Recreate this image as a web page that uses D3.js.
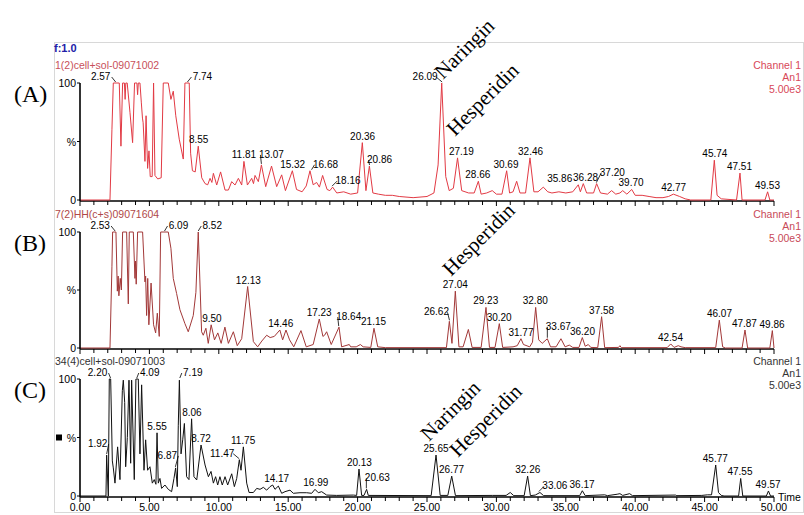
<!DOCTYPE html>
<html><head><meta charset="utf-8">
<script src="https://cdn.jsdelivr.net/npm/d3@7"></script>
<style>body{margin:0;background:#fff}svg{display:block}</style>
</head><body><svg id="c" width="804" height="515"></svg>
<script>
// ---- data (retention time in min, relative intensity %) ----
const xTicks = [0,5,10,15,20,25,30,35,40,45,50];
const yTickLabels = ["0","%","100"];
const panelNames = ["(A)","(B)","(C)"];
const sampleNames = ["1(2)cell+sol-09071002","7(2)HH(c+s)09071604","34(4)cell+sol-09071003"];
const channelText = ["Channel 1","An1","5.00e3"];

const traceA = [[0,0],[2.16,0],[2.3,60],[2.4,100],[2.83,100],[2.95,46],[3.07,100],[3.2,100],[3.25,86],[3.3,100],[3.4,100],[3.6,75],[3.79,49],[3.93,100],[4.1,100],[4.15,90],[4.2,100],[4.32,100],[4.42,83],[4.5,70],[4.55,66],[4.68,33],[4.76,72],[4.87,27],[4.97,42],[5.06,20],[5.2,20],[5.3,100],[5.4,21],[5.6,18],[5.85,19],[6.0,100],[6.36,100],[6.55,86],[6.72,93],[6.9,72],[7.15,52],[7.44,35],[7.56,100],[7.87,100],[7.97,40],[8.1,25],[8.3,24],[8.52,46],[8.77,19],[9.01,14],[9.2,13],[9.37,18.5],[9.5,15],[9.61,22.8],[9.85,12.8],[10.13,24],[10.45,8.5],[10.69,8.5],[10.93,15.7],[11.17,12.8],[11.41,18.5],[11.65,12.8],[11.81,33],[12.06,12.8],[12.37,18.5],[12.5,14],[12.61,21],[12.85,15.7],[13.07,30],[13.38,11.4],[13.8,29],[14.17,11.4],[14.53,21.5],[14.8,8],[15.3,25],[15.6,9],[16.0,7],[16.3,12],[16.57,25],[16.8,13],[17.05,15],[17.25,11],[17.48,21],[17.8,9],[18.0,8],[18.2,11],[18.5,6],[19.0,7],[19.5,5],[20.0,6],[20.34,49],[20.6,8],[20.85,29],[21.1,6],[21.5,5],[22,4],[22.5,4],[23,3],[24,2],[25,3],[25.5,6],[25.8,30],[26.06,100],[26.35,20],[26.6,8],[26.9,10],[27.2,36],[27.5,8],[28,6],[28.4,6],[28.7,16],[28.9,5],[29.3,6],[29.7,8],[30.0,5],[30.4,5],[30.74,25],[30.95,6],[31.2,7],[31.46,16],[31.7,6],[32.1,6],[32.42,36],[32.7,7],[33.0,7],[33.38,11],[33.7,7],[34.0,6],[34.5,7],[35,6],[35.5,7],[35.9,13],[36.05,7],[36.26,14],[36.5,6],[37.0,6],[37.22,14],[37.5,6],[38,5],[38.3,8],[38.6,5],[38.9,6],[39.1,8],[39.4,5],[39.75,9],[40.0,4],[40.5,4],[41,3],[41.5,2],[42,2],[42.4,3],[42.75,5],[43.2,3],[43.6,1],[44,0],[45.45,0],[45.7,34],[45.9,4],[46.2,1],[47.3,0],[47.55,23],[47.7,0],[49.35,0],[49.54,7],[49.7,0],[50,0]];

const traceB = [[0,0],[2.16,0],[2.3,70],[2.35,100],[2.59,100],[2.69,49],[2.75,62],[2.8,45],[2.9,60],[2.98,50],[3.07,100],[3.36,100],[3.48,38],[3.55,100],[3.84,100],[3.96,60],[4.0,75],[4.05,55],[4.15,100],[4.51,100],[4.68,57],[4.73,62],[4.8,28],[4.88,60],[4.96,20],[5.12,56],[5.3,20],[5.45,13],[5.57,30],[5.71,10],[5.81,100],[6.36,100],[6.55,86],[6.72,60],[6.96,47],[7.2,33],[7.56,21],[7.8,14],[8.16,28],[8.35,48],[8.52,100],[8.76,14],[8.88,11],[9.07,17],[9.24,4],[9.45,20],[9.69,7],[9.93,13],[10.17,4],[10.44,18],[10.69,4],[11.05,14],[11.33,2],[11.65,8],[12.08,53],[12.49,5.5],[12.8,1],[13.1,6],[13.45,11],[13.7,9],[14.0,10],[14.4,15.5],[14.6,7],[14.84,15.5],[15.1,7],[15.4,1],[15.92,15],[16.3,1],[16.8,3],[17.24,25],[17.5,10],[17.62,11],[17.77,14],[18.1,3],[18.66,18],[18.85,1],[19.4,3],[19.5,1],[19.9,1],[20.2,3],[20.4,1],[20.95,0.5],[21.18,17],[21.45,1],[22,0.3],[26.4,0.3],[26.61,23],[26.8,4],[27.04,49],[27.3,1],[27.6,1],[27.98,16],[28.25,0.5],[28.9,0.5],[29.25,35],[29.5,0.5],[29.9,0.5],[30.21,21],[30.45,0.5],[31.2,1],[31.5,2],[31.77,8],[31.95,3],[32.4,1],[32.6,5],[32.83,35],[33.05,7],[33.3,4],[33.67,8],[33.9,1],[34.3,1],[34.65,8],[34.95,1],[35.25,2.5],[35.5,0.5],[35.95,0.5],[36.19,9],[36.4,1.5],[36.62,3],[36.8,0.5],[37.3,0.3],[37.58,27],[37.8,0.3],[38.8,0.5],[38.9,2],[39.0,0.3],[42.3,0.3],[42.56,3.5],[42.8,0.5],[43.1,2],[43.3,1],[43.6,0.3],[45.8,0.3],[46.06,24],[46.3,1],[46.5,0],[47.7,0],[47.91,15.5],[48.1,0],[49.7,0],[49.88,15],[50,0]];

const traceC = [[0,0],[1.87,0],[1.92,35],[2.04,0],[2.11,100],[2.21,100],[2.33,30],[2.4,24],[2.52,11],[2.71,42],[2.88,14],[3.05,90],[3.12,99],[3.22,80],[3.29,25],[3.41,50],[3.53,99],[3.65,28],[3.72,99],[3.91,14],[4.03,100],[4.2,100],[4.32,36],[4.44,95],[4.61,22],[4.73,48],[4.87,22],[5.04,25],[5.21,11],[5.35,14],[5.47,10],[5.55,54],[5.64,11],[5.76,15],[5.88,6.5],[6.12,9.4],[6.36,5.7],[6.6,3.7],[6.77,15],[6.89,24],[7.01,8],[7.08,60],[7.16,99],[7.28,36],[7.4,48],[7.52,62],[7.68,16.5],[7.85,14],[8.04,66],[8.21,16.5],[8.41,13.7],[8.72,43.6],[9.01,26.5],[9.25,16.5],[9.44,21],[9.61,11],[9.77,16.5],[9.92,9.4],[10.08,16.5],[10.25,9.4],[10.45,16.5],[10.64,9.4],[10.93,19],[11.12,8],[11.29,15],[11.48,31],[11.6,22],[11.77,42],[12.01,11],[12.18,3],[12.49,3],[12.73,6.5],[12.97,5.7],[13.21,7.4],[13.45,5],[13.69,8],[13.88,9.4],[14.05,5.7],[14.29,8.5],[14.53,2.3],[14.77,3.7],[15.13,5],[15.37,2.3],[15.85,2.8],[16.33,2.8],[16.69,2.3],[16.93,5.7],[17.17,2.8],[17.41,3.7],[17.77,0.8],[18.49,0.5],[19.69,0.8],[19.93,0.5],[20.1,23],[20.29,0.5],[20.46,0.5],[20.65,5.7],[20.77,0.5],[25.3,0.3],[25.65,35],[25.95,0.5],[26.5,0.5],[26.78,17],[27.05,0.3],[29.7,0.5],[30.7,0.5],[31.0,3],[31.25,0.3],[32.0,0.3],[32.25,17],[32.45,0.3],[32.8,0.8],[33.14,3],[33.4,0.3],[36.0,0.3],[36.19,4.5],[36.4,0.3],[37.8,1],[38.0,0.3],[38.7,1.5],[38.9,2],[39.1,0.5],[39.6,2],[39.8,0.3],[42.9,0.8],[43.0,0.3],[44.8,0.5],[45.2,1],[45.5,1],[45.8,26.5],[46.0,3],[46.2,0.5],[46.4,0],[47.45,0],[47.6,15],[47.75,0],[49.45,0],[49.6,4.3],[49.75,0],[50,0]];

// peak labels: [retention time, peak height %]
const labelsA = [[2.57,100],[7.74,100],[8.55,46],[11.81,33],[13.07,30],[15.32,25],[16.68,25],[18.16,11],[20.36,49],[20.86,29],[26.09,100],[27.19,36],[28.66,16],[30.69,25],[32.46,36],[35.86,13],[36.28,14],[37.20,14],[39.70,9],[42.77,5],[45.74,34],[47.51,23],[49.53,7]];
const labelsB = [[2.53,100],[6.09,100],[8.52,100],[9.50,20],[12.13,53],[14.46,15.5],[17.23,25],[18.64,18],[21.15,17],[26.62,23],[27.04,49],[29.23,35],[30.20,21],[31.77,8],[32.80,35],[33.67,8],[36.20,9],[37.58,27],[42.54,3.5],[46.07,24],[47.87,15.5],[49.86,15]];
const labelsC = [[1.92,35],[2.20,100],[4.09,100],[5.55,54],[6.87,24],[7.19,100],[8.06,66],[8.72,43.6],[11.47,31],[11.75,42],[14.17,9.4],[16.99,5.7],[20.13,23],[20.63,5.7],[25.65,35],[26.77,17],[32.26,17],[33.06,3],[36.17,4.5],[45.77,26.5],[47.55,15],[49.57,4.3]];
const compoundsA = ["Naringin","Hesperidin"];
const compoundsB = ["Hesperidin"];
const compoundsC = ["Naringin","Hesperidin"];

// ---- layout / style ----
const svg = d3.select("#c");
svg.append("rect").attr("width",804).attr("height",515).attr("fill","#fff");
svg.append("rect").attr("x",54.5).attr("y",42.5).attr("width",749).attr("height",470).attr("fill","none").attr("stroke","#d8d8d8");

const x = d3.scaleLinear().domain([0,50]).range([80,774]);
const SANS = "'Liberation Sans', Arial, sans-serif";
const SERIF = "'Liberation Serif', 'Times New Roman', serif";

// label nudges (layout only): [dx, dy, leader]
const nudge = {
 "A2.57":[-15,0,1],"A7.74":[15,0,1],"A13.07":[10,-4,1],"A16.68":[14,0,1],"A18.16":[16,0,1],"A20.86":[10,0,1],
 "A26.09":[-17,0,1],"A27.19":[4,0,0],"A35.86":[-18,0,0],"A36.28":[2,0,0],"A37.20":[16,-5,1],
 "B2.53":[-15,0,1],"B6.09":[14,0,1],"B8.52":[14,0,1],"B18.64":[10,-4,1],"B26.62":[-13,-3,1],"B33.67":[11,-6,1],
 "C2.20":[-13,0,1],"C4.09":[13,0,1],"C7.19":[13,0,1],"C1.92":[-9,-5,1],"C6.87":[-8,-6,1],"C11.47":[-17,0,1],"C20.63":[11,-5,1],"C33.06":[16,0,1]
};

const panels = [
 {key:"A", trace:traceA, labels:labelsA, y0:200, y100:83, color:"#e23a44", textColor:"#c8505a", chanColor:"#d84858", comp:compoundsA,
  compPos:[[443,80],[455,137]]},
 {key:"B", trace:traceB, labels:labelsB, y0:348, y100:232, color:"#a23838", textColor:"#b04848", chanColor:"#c84a58", comp:compoundsB,
  compPos:[[451,277]]},
 {key:"C", trace:traceC, labels:labelsC, y0:496, y100:379, color:"#111", textColor:"#333", chanColor:"#333", comp:compoundsC,
  compPos:[[429,442],[458,458]]}
];

svg.append("text").attr("x",54).attr("y",52).attr("font-family",SANS).attr("font-size",11).attr("font-weight","bold")
  .attr("fill","#2020a8").text("f:1.0");

panels.forEach((p,i)=>{
  const y = d3.scaleLinear().domain([0,100]).range([p.y0,p.y100]);
  const g = svg.append("g");
  g.append("text").attr("x",55).attr("y",p.y100-14).attr("font-family",SANS).attr("font-size",10.5).attr("fill",p.textColor).text(sampleNames[i]);
  channelText.forEach((t,j)=>g.append("text").attr("x",801).attr("y",p.y100-14+j*12).attr("text-anchor","end")
     .attr("font-family",SANS).attr("font-size",10.5).attr("fill",p.chanColor).text(t));
  g.append("text").attr("x",14).attr("y",p.y100+19).attr("font-family",SERIF).attr("font-size",24).attr("fill","#000").text(panelNames[i]);
  const line = d3.line().x(d=>x(d[0])).y(d=>y(d[1]));
  // x axis (drawn first so trace baseline stays visible)
  const xa = g.append("g").attr("transform",`translate(0,${p.y0+1})`);
  xa.append("line").attr("x1",80).attr("x2",774).attr("stroke","#000").attr("stroke-width",1.6);
  xa.selectAll("line.mt").data(d3.range(0,51)).join("line").attr("class","mt")
    .attr("x1",d=>x(d)).attr("x2",d=>x(d)).attr("y1",0).attr("y2",d=>d%5===0?5:4).attr("stroke","#000").attr("stroke-width",1);
  if(i===2){
    xa.selectAll("text").data(xTicks).join("text").attr("x",d=>x(d)).attr("y",14).attr("text-anchor","middle")
      .attr("font-family",SANS).attr("font-size",10.5).attr("fill","#000").text(d=>d.toFixed(2));
    g.append("text").attr("x",778).attr("y",p.y0+5).attr("font-family",SANS).attr("font-size",10.5).attr("fill","#000").text("Time");
  }
  g.append("path").datum(p.trace).attr("d",line).attr("fill","none").attr("stroke",p.color).attr("stroke-width",1).attr("stroke-linejoin","round");
  g.append("line").attr("x1",80).attr("x2",80).attr("y1",p.y0+1).attr("y2",p.y100).attr("stroke","#000").attr("stroke-width",1.6);
  [0,50,100].forEach((v,k)=>{
    g.append("line").attr("x1",77).attr("x2",80).attr("y1",y(v)).attr("y2",y(v)).attr("stroke","#000");
    g.append("text").attr("x",76).attr("y",y(v)+4).attr("text-anchor","end").attr("font-family",SANS).attr("font-size",10.5)
      .attr("fill","#000").text(yTickLabels[k]);
  });
  if(i===2){
    g.append("rect").attr("x",56).attr("y",y(50)-3).attr("width",6).attr("height",6).attr("fill","#000");
  }
  p.labels.forEach(([t,h])=>{
    const s = t.toFixed(2);
    const n = nudge[p.key+s] || [0,0,0];
    const px = x(t), py = y(h);
    const tx = px + n[0], ty = py - 3 + n[1];
    g.append("text").attr("x",tx).attr("y",ty).attr("text-anchor","middle").attr("font-family",SANS)
      .attr("font-size",10).attr("fill","#000").text(s);
    if(n[2]){
      const ex = n[0]<0 ? tx+11 : tx-11;
      g.append("line").attr("x1",px).attr("y1",py-1).attr("x2",ex).attr("y2",ty-3).attr("stroke","#000").attr("stroke-width",0.8);
    }
  });
  p.comp.forEach((c,k)=>{
    const [cx,cy] = p.compPos[k];
    g.append("text").attr("transform",`translate(${cx},${cy}) rotate(-45)`).attr("font-family",SERIF)
      .attr("font-size",21).attr("fill","#000").text(c);
  });
});
</script></body></html>
